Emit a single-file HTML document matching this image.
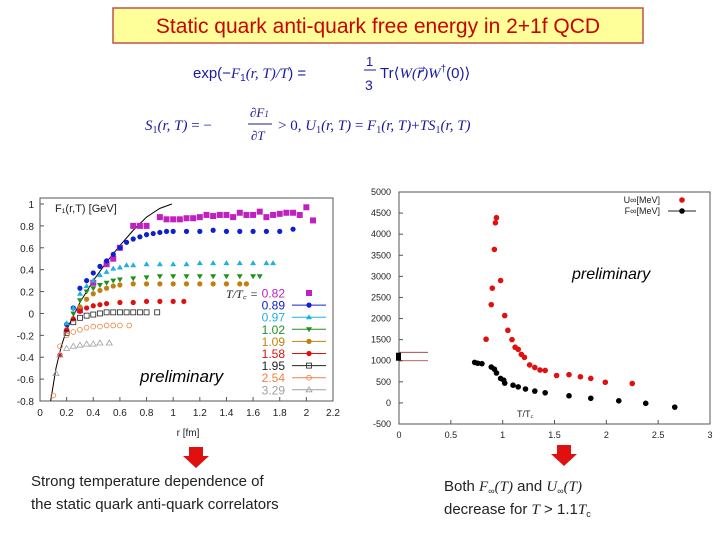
<!DOCTYPE html>
<html><head><meta charset="utf-8"><style>
body{margin:0;background:#fff;width:720px;height:540px;overflow:hidden;font-family:"Liberation Sans",sans-serif}
svg{display:block}
</style></head><body>
<svg id="s" width="720" height="540" viewBox="0 0 720 540">
<rect x="113" y="8" width="530" height="35" fill="#ffff99" stroke="#c0504d" stroke-width="1.5"/>
<text x="378" y="33" text-anchor="middle" font-size="21" fill="#cc0000">Static quark anti-quark free energy  in 2+1f QCD</text>
<g fill="#1a1aa0" font-size="15">
<text x="193" y="78">exp(−<tspan font-family="Liberation Serif" font-style="italic">F</tspan><tspan font-size="10" dy="3">1</tspan><tspan dy="-3" font-family="Liberation Serif" font-style="italic">(r, T)/T</tspan>) =</text>
<text x="366" y="66" font-size="13">1</text><line x1="364" y1="70" x2="376" y2="70" stroke="#1a1aa0"/><text x="365" y="90" font-size="14">3</text>
<text x="380" y="78">Tr⟨<tspan font-family="Liberation Serif" font-style="italic">W(r⃗)W</tspan><tspan font-size="10" dy="-6">†</tspan><tspan dy="6">(0)⟩</tspan></text>
</g>
<g fill="#1a1aa0" font-size="15" font-family="Liberation Serif">
<text x="145" y="130"><tspan font-style="italic">S</tspan><tspan font-size="10" dy="3">1</tspan><tspan dy="-3" font-style="italic">(r, T)</tspan> = −</text>
<text x="250" y="117" font-size="13" font-style="italic">∂F<tspan font-size="9">1</tspan></text><line x1="248" y1="124" x2="272" y2="124" stroke="#1a1aa0"/><text x="251" y="140" font-size="13" font-style="italic">∂T</text>
<text x="278" y="130">&gt; 0, <tspan font-style="italic">U</tspan><tspan font-size="10" dy="3">1</tspan><tspan dy="-3" font-style="italic">(r, T)</tspan> = <tspan font-style="italic">F</tspan><tspan font-size="10" dy="3">1</tspan><tspan dy="-3" font-style="italic">(r, T)</tspan>+<tspan font-style="italic">TS</tspan><tspan font-size="10" dy="3">1</tspan><tspan dy="-3" font-style="italic">(r, T)</tspan></text>
</g>
<g id="left"></g>
<g id="right"></g>
<g><polygon points="189,447 203,447 203,456 209,456 196,468 183,456 189,456" fill="#e01010"/></g>
<g><polygon points="557,445 571,445 571,454 577,454 564,466 551,454 557,454" fill="#e01010"/></g>
<g font-size="15" fill="#222">
<text x="31" y="486">Strong temperature dependence of</text>
<text x="31" y="509">the static quark anti-quark correlators</text></g>
<g font-size="15" fill="#222">
<text x="444" y="491">Both <tspan font-family="Liberation Serif" font-style="italic">F</tspan><tspan font-size="9" dy="3">∞</tspan><tspan dy="-3" font-family="Liberation Serif" font-style="italic">(T)</tspan> and <tspan font-family="Liberation Serif" font-style="italic">U</tspan><tspan font-size="9" dy="3">∞</tspan><tspan dy="-3" font-family="Liberation Serif" font-style="italic">(T)</tspan></text>
<text x="444" y="514">decrease for <tspan font-family="Liberation Serif" font-style="italic">T</tspan> &gt; 1.1<tspan font-family="Liberation Serif" font-style="italic">T</tspan><tspan font-size="9" dy="3">c</tspan></text></g>
</svg>
<script>
// ---- left chart data ----
const leftTemps=["0.82","0.89","0.97","1.02","1.09","1.58","1.95","2.54","3.29"];
const s082=[[0.3,0.03],[0.4,0.28],[0.5,0.45],[0.55,0.5],[0.6,0.6],[0.7,0.8],[0.75,0.8],[0.8,0.8],[0.9,0.88],[0.95,0.86],[1.0,0.86],[1.05,0.86],[1.1,0.87],[1.15,0.87],[1.2,0.88],[1.25,0.9],[1.3,0.89],[1.35,0.9],[1.4,0.9],[1.45,0.88],[1.5,0.92],[1.55,0.9],[1.6,0.9],[1.65,0.93],[1.7,0.88],[1.75,0.9],[1.8,0.91],[1.85,0.92],[1.9,0.92],[1.95,0.9],[2.0,0.97],[2.05,0.85]];
const s089=[[0.2,-0.1],[0.25,0.05],[0.3,0.23],[0.35,0.3],[0.4,0.37],[0.45,0.43],[0.5,0.48],[0.55,0.54],[0.6,0.6],[0.65,0.65],[0.7,0.68],[0.75,0.7],[0.8,0.72],[0.85,0.73],[0.9,0.74],[0.95,0.75],[1.0,0.75],[1.1,0.75],[1.2,0.75],[1.3,0.76],[1.4,0.75],[1.5,0.75],[1.6,0.75],[1.7,0.75],[1.8,0.75],[1.9,0.77]];
const s097=[[0.2,-0.09],[0.25,0.05],[0.3,0.18],[0.35,0.25],[0.4,0.3],[0.45,0.35],[0.5,0.38],[0.55,0.41],[0.6,0.42],[0.65,0.44],[0.7,0.44],[0.8,0.45],[0.9,0.45],[1.0,0.45],[1.1,0.45],[1.2,0.46],[1.3,0.46],[1.4,0.46],[1.5,0.46],[1.6,0.46],[1.7,0.46],[1.75,0.46]];
const s102=[[0.25,0.0],[0.3,0.12],[0.35,0.2],[0.4,0.23],[0.45,0.26],[0.5,0.28],[0.55,0.3],[0.6,0.31],[0.7,0.32],[0.8,0.33],[0.9,0.34],[1.0,0.34],[1.1,0.34],[1.2,0.34],[1.3,0.34],[1.4,0.34],[1.5,0.34],[1.6,0.34],[1.65,0.34]];
const s109=[[0.3,0.06],[0.35,0.13],[0.4,0.18],[0.45,0.21],[0.5,0.23],[0.55,0.25],[0.6,0.26],[0.7,0.27],[0.8,0.27],[0.9,0.27],[1.0,0.27],[1.1,0.27],[1.2,0.27],[1.3,0.27],[1.4,0.27],[1.5,0.27],[1.55,0.27]];
const s158=[[0.15,-0.38],[0.2,-0.15],[0.25,-0.05],[0.3,0.02],[0.35,0.05],[0.4,0.07],[0.45,0.08],[0.5,0.09],[0.6,0.1],[0.7,0.1],[0.8,0.11],[0.9,0.11],[1.0,0.11],[1.08,0.11]];
const s195=[[0.2,-0.18],[0.25,-0.08],[0.3,-0.04],[0.35,-0.02],[0.4,-0.01],[0.45,0.0],[0.5,0.01],[0.55,0.01],[0.6,0.01],[0.65,0.01],[0.7,0.01],[0.75,0.01],[0.8,0.01],[0.88,0.01]];
const s254=[[0.1,-0.75],[0.15,-0.3],[0.2,-0.2],[0.25,-0.17],[0.3,-0.15],[0.35,-0.13],[0.4,-0.12],[0.45,-0.12],[0.5,-0.11],[0.55,-0.11],[0.6,-0.11],[0.67,-0.11]];
const s329=[[0.12,-0.55],[0.15,-0.38],[0.2,-0.32],[0.25,-0.3],[0.3,-0.29],[0.35,-0.28],[0.4,-0.28],[0.45,-0.27],[0.52,-0.27]];
const cornell=[[0.08,-0.8],[0.12,-0.5],[0.16,-0.3],[0.2,-0.15],[0.3,0.1],[0.4,0.3],[0.5,0.47],[0.6,0.62],[0.7,0.76],[0.8,0.88],[0.9,0.96],[0.99,1.0]];
const leftXTicks=["0","0.2","0.4","0.6","0.8","1","1.2","1.4","1.6","1.8","2","2.2"];
const leftYTicks=["-0.8","-0.6","-0.4","-0.2","0","0.2","0.4","0.6","0.8","1"];
// ---- right chart data ----
const uInf=[[0.84,1510],[0.89,2330],[0.9,2720],[0.92,3640],[0.93,4270],[0.94,4390],[0.98,2900],[1.02,2070],[1.05,1720],[1.09,1500],[1.12,1320],[1.15,1270],[1.18,1150],[1.21,1080],[1.26,900],[1.31,840],[1.36,780],[1.41,770],[1.52,650],[1.64,670],[1.75,620],[1.85,580],[1.99,490],[2.25,460]];
const fInf=[[0.73,960],[0.76,940],[0.8,930],[0.89,850],[0.92,800],[0.94,710],[0.98,580],[1.01,540],[1.02,470],[1.1,420],[1.15,380],[1.22,330],[1.31,280],[1.41,240],[1.64,170],[1.85,110],[2.12,50],[2.38,-10],[2.66,-100]];
const rightXTicks=["0","0.5","1","1.5","2","2.5","3"];
const rightYTicks=["-500","0","500","1000","1500","2000","2500","3000","3500","4000","4500","5000"];

const NS="http://www.w3.org/2000/svg";
function mk(p,t,a){const e=document.createElementNS(NS,t);for(const k in a)e.setAttribute(k,a[k]);p.appendChild(e);return e;}
const L=document.getElementById('left');
const lx=v=>40+(v/2.2)*293, ly=v=>204+(1-v)*(197/1.8);
const lf=mk(L,'rect',{x:40,y:198,width:293,height:203,fill:'none',stroke:'#555','stroke-width':1});


leftXTicks.forEach(t=>{const v=+t;mk(L,'line',{x1:lx(v),x2:lx(v),y1:401,y2:397,stroke:'#555'});const e=mk(L,'text',{x:lx(v),y:416,'font-size':10,'text-anchor':'middle',fill:'#222'});e.textContent=t;

});
leftYTicks.forEach(t=>{const v=+t;mk(L,'line',{x1:40,x2:44,y1:ly(v),y2:ly(v),stroke:'#555'});const e=mk(L,'text',{x:34,y:ly(v)+4,'font-size':10,'text-anchor':'end',fill:'#222'});e.textContent=t;

});
let e=mk(L,'text',{x:188,y:436,'font-size':10,'text-anchor':'middle',fill:'#222'});e.textContent='r [fm]';


e=mk(L,'text',{x:55,y:212,'font-size':11,fill:'#222'});e.textContent='F₁(r,T) [GeV]';


e=mk(L,'text',{x:140,y:382,'font-size':17,'font-style':'italic',fill:'#000'});e.textContent='preliminary';


const cl=mk(L,'polyline',{points:cornell.map(p=>lx(p[0])+','+ly(p[1])).join(' '),fill:'none',stroke:'#000','stroke-width':1});


const series=[s082,s089,s097,s102,s109,s158,s195,s254,s329];
const cols=['#c020c0','#1020d0','#20b0e0','#209020','#c08010','#e01010','#222','#f08040','#a0a0a0'];
const shapes=['sq','ci','tr','tu','ci','pe','osq','oci','otr'];
function marker(g,x,y,s,c){
 if(s=='sq')return mk(g,'rect',{x:x-3,y:y-3,width:6,height:6,fill:c});
 if(s=='osq')return mk(g,'rect',{x:x-2.5,y:y-2.5,width:5,height:5,fill:'none',stroke:c,'stroke-width':0.8});
 if(s=='ci')return mk(g,'circle',{cx:x,cy:y,r:2.6,fill:c});
 if(s=='oci')return mk(g,'circle',{cx:x,cy:y,r:2.4,fill:'none',stroke:c,'stroke-width':0.8});
 if(s=='tr')return mk(g,'polygon',{points:`${x},${y-3} ${x-3},${y+2} ${x+3},${y+2}`,fill:c});
 if(s=='otr')return mk(g,'polygon',{points:`${x},${y-3} ${x-3},${y+2} ${x+3},${y+2}`,fill:'none',stroke:c,'stroke-width':0.8});
 if(s=='tu')return mk(g,'polygon',{points:`${x},${y+3} ${x-3},${y-2} ${x+3},${y-2}`,fill:c});
 return mk(g,'circle',{cx:x,cy:y,r:2.6,fill:c});
}
series.forEach((sr,i)=>{const g=mk(L,'g',{});
 
 
 sr.forEach(p=>{const m=marker(g,lx(p[0]),ly(p[1]),shapes[i],cols[i]);
 
 });
 const yy=293+i*12.1;
 const lg=mk(L,'g',{});
 
 
 const t=mk(lg,'text',{x:285,y:yy+4.5,'font-size':12,'text-anchor':'end',fill:cols[i]});t.textContent=leftTemps[i];
 if(i>0)mk(lg,'line',{x1:292,x2:326,y1:yy,y2:yy,stroke:cols[i],'stroke-width':1});
 marker(lg,309,yy,shapes[i],cols[i]);
});
e=mk(L,'text',{x:226,y:298,'font-size':12,'font-style':'italic','font-family':'Liberation Serif',fill:'#222'});e.textContent='T/T꜀ =';


const R=document.getElementById('right');
const rx=v=>399+(v/3)*311, ry=v=>192+(5000-v)*(232/5500);
const rf=mk(R,'rect',{x:399,y:192,width:311,height:232,fill:'none',stroke:'#555','stroke-width':1});


rightXTicks.forEach(t=>{const v=+t;mk(R,'line',{x1:rx(v),x2:rx(v),y1:424,y2:420,stroke:'#555'});const e=mk(R,'text',{x:rx(v),y:438,'font-size':9,'text-anchor':'middle',fill:'#222'});e.textContent=t;

});
rightYTicks.forEach(t=>{const v=+t;mk(R,'line',{x1:399,x2:403,y1:ry(v),y2:ry(v),stroke:'#555'});const e=mk(R,'text',{x:391,y:ry(v)+3,'font-size':9,'text-anchor':'end',fill:'#222'});e.textContent=t;

});
e=mk(R,'text',{x:517,y:417,'font-size':9,fill:'#222'});e.textContent='T/T꜀';


e=mk(R,'text',{x:572,y:279,'font-size':16,'font-style':'italic',fill:'#000'});e.textContent='preliminary';


mk(R,'line',{x1:399,x2:428,y1:ry(1200),y2:ry(1200),stroke:'#a03030','stroke-width':0.8});
mk(R,'line',{x1:399,x2:428,y1:ry(1000),y2:ry(1000),stroke:'#a03030','stroke-width':0.8});
mk(R,'rect',{x:396,y:ry(1190),width:5,height:ry(1000)-ry(1190),fill:'#000'});
const gu=mk(R,'g',{});
uInf.forEach(p=>{const m=mk(gu,'circle',{cx:rx(p[0]),cy:ry(p[1]),r:2.8,fill:'#e01010'});

});
const gf=mk(R,'g',{});
fInf.forEach(p=>{const m=mk(gf,'circle',{cx:rx(p[0]),cy:ry(p[1]),r:2.8,fill:'#000'});

});
const rl=mk(R,'g',{});
let t1=mk(rl,'text',{x:660,y:203,'font-size':9,'text-anchor':'end',fill:'#222'});t1.textContent='U∞[MeV]';
mk(rl,'circle',{cx:682,cy:200,r:2.8,fill:'#e01010'});
t1=mk(rl,'text',{x:660,y:214,'font-size':9,'text-anchor':'end',fill:'#222'});t1.textContent='F∞[MeV]';
mk(rl,'line',{x1:668,x2:696,y1:211,y2:211,stroke:'#222'});
mk(rl,'circle',{cx:682,cy:211,r:2.8,fill:'#000'});
</script>
</body></html>
